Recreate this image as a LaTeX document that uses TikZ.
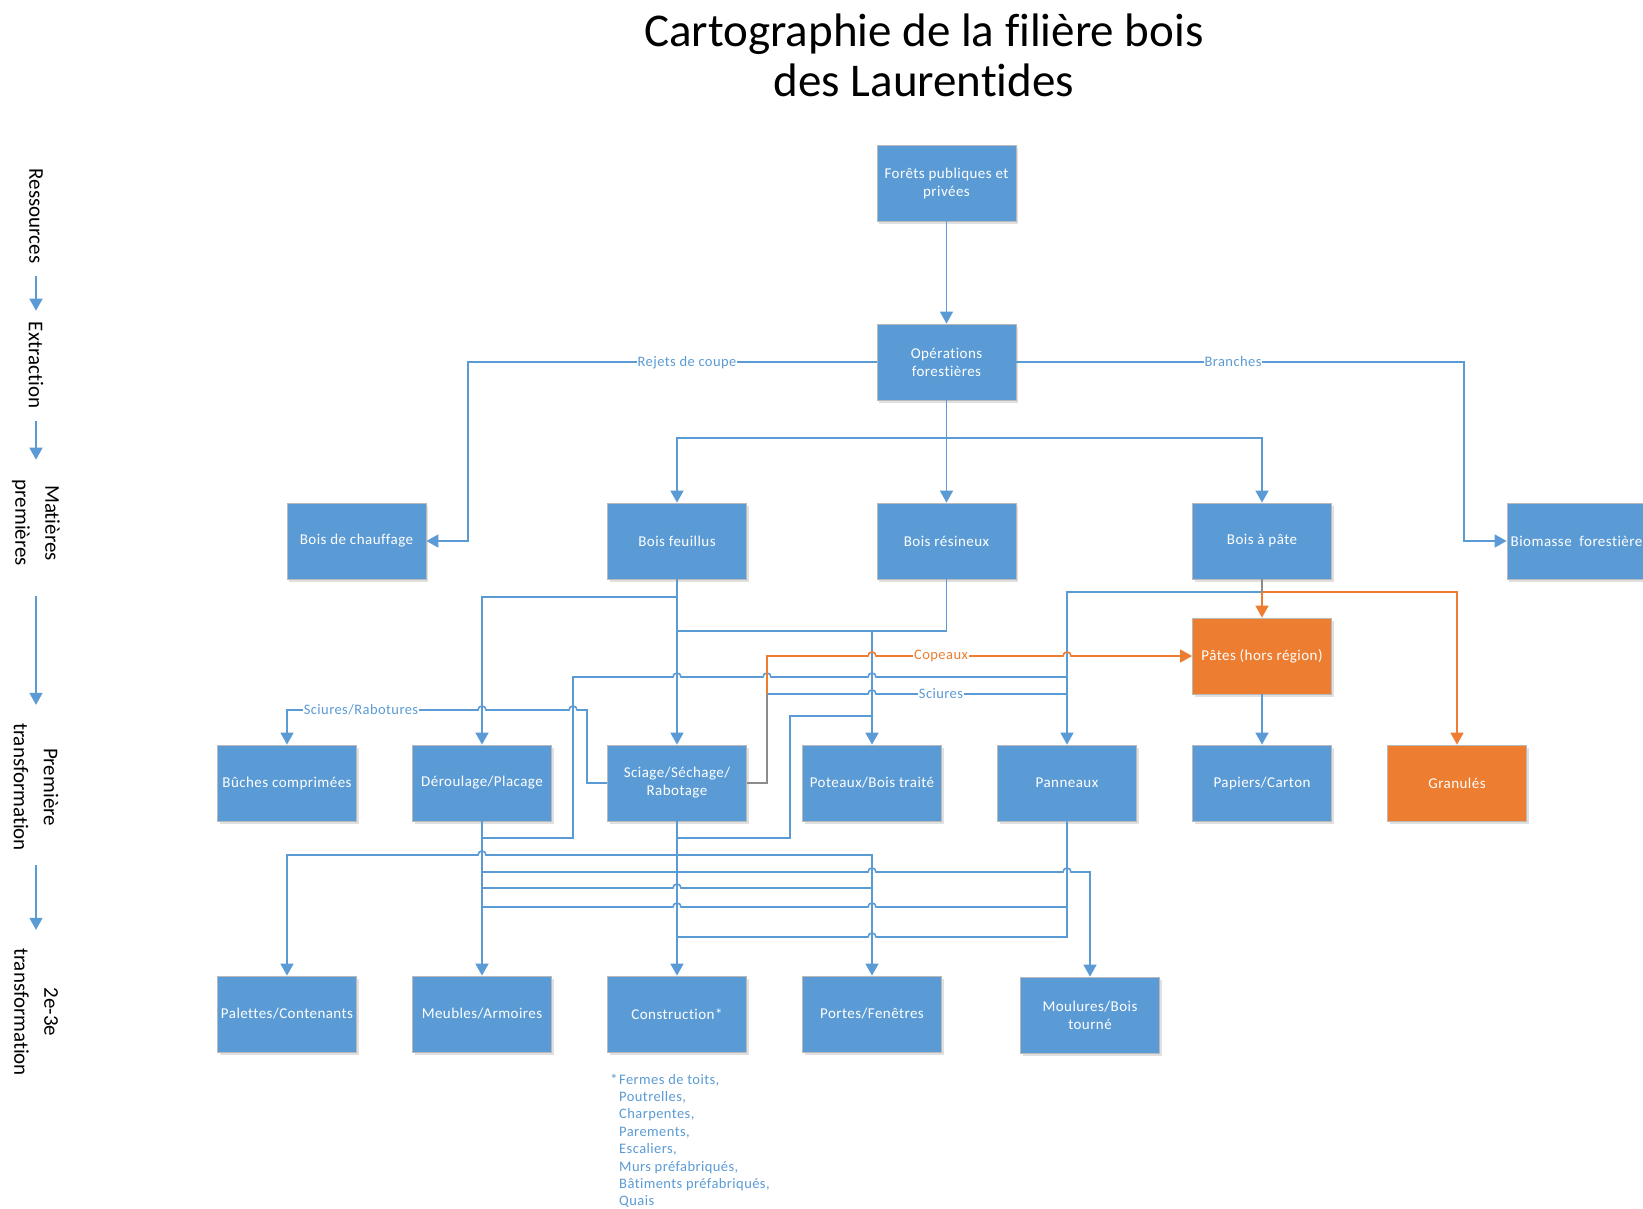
\documentclass[tikz,border=0pt]{standalone}
\usepackage{fontspec}
\setmainfont{Carlito}[Ligatures=NoCommon]
\newfontfamily\spacedfont{Carlito}[LetterSpace=3,Ligatures=NoCommon]
\usetikzlibrary{arrows.meta,shadows}
\definecolor{bblue}{HTML}{5B9BD5}
\definecolor{borange}{HTML}{ED7D31}
\definecolor{bmix}{HTML}{8E8C8A}
\newcommand\boxfont{\spacedfont\fontsize{15}{18}\selectfont}
\newcommand\lblfont{\spacedfont\fontsize{14.5}{17.4}\selectfont}
\begin{document}
\begin{tikzpicture}[x=1pt,y=-1pt,
  box/.style={draw=gray!55, line width=0.8pt, fill=bblue, text=white,
    minimum width=139pt, minimum height=76pt, align=center, font=\boxfont,
    inner sep=2pt, drop shadow={shadow xshift=2pt, shadow yshift=-2.5pt, fill=black, opacity=0.12}},
  obox/.style={box, fill=borange},
  conn/.style={draw=bblue, line width=1.6pt},
  oconn/.style={draw=borange, line width=1.6pt},
  mconn/.style={draw=bmix, line width=1.6pt},
  arr/.style={-{Triangle[length=12pt,width=13pt]}},
  lbl/.style={fill=white, inner sep=1pt, text=bblue, font=\lblfont},
  olbl/.style={lbl, text=borange},
  side/.style={rotate=-90, align=center, inner sep=0pt, font=\fontsize{21}{30}\selectfont},
]
\useasboundingbox (0,0) rectangle (1643,1208);
\fill[white] (0,0) rectangle (1643,1208);

% title
\node[align=center, font=\fontsize{47}{50}\selectfont] (title) at (924,55) {Cartographie de la filière bois\\des Laurentides};

% side labels
\node[side] (l1) at (36,216) {Ressources};
\node[side] (l2) at (36,365) {Extraction};
\node[side] (l3) at (36,523) {Matières\\premières};
\node[side] (l4) at (36,787) {Première\\transformation};
\node[side] (l5) at (36,1012) {2e-3e\\transformation};
\draw[conn,arr,shorten <=13pt,shorten >=11pt] (l1.east) -- (l2.west);
\draw[conn,arr,shorten <=13pt,shorten >=20pt] (l2.east) -- (l3.west);
\draw[conn,arr,shorten <=30pt,shorten >=18pt] (l3.east) -- (l4.west);
\draw[conn,arr,shorten <=14pt,shorten >=18pt] (l4.east) -- (l5.west);

% boxes
\node[box] (foret) at (946.5,183) {Forêts publiques et\\privées};
\node[box] (ops) at (946.5,362) {Opérations\\forestières};
\node[box] (chauff) at (356.5,541) {Bois de chauffage};
\node[box] (feuil) at (677,541) {Bois feuillus};
\node[box] (resin) at (946.5,541) {Bois résineux};
\node[box] (apate) at (1262,541) {Bois à pâte};
\node[box] (biom) at (1576.5,541) {Biomasse\ \ forestière};
\node[obox] (pates) at (1262,656) {Pâtes (hors région)};
\node[box] (buches) at (287,783) {Bûches comprimées};
\node[box] (derou) at (482,783) {Déroulage/Placage};
\node[box] (sciage) at (677,783) {Sciage/Séchage/\\Rabotage};
\node[box] (poteaux) at (872,783) {Poteaux/Bois traité};
\node[box] (panneaux) at (1067,783) {Panneaux};
\node[box] (papiers) at (1262,783) {Papiers/Carton};
\node[obox] (granules) at (1457,783) {Granulés};
\node[box] (palettes) at (287,1014) {Palettes/Contenants};
\node[box] (meubles) at (482,1014) {Meubles/Armoires};
\node[box] (constr) at (677,1014) {Construction*};
\node[box] (portes) at (872,1014) {Portes/Fenêtres};
\node[box] (moulures) at (1090,1015) {Moulures/Bois\\tourné};

% footnote
\node[anchor=north west, align=left, inner sep=0pt, text=bblue, font=\lblfont] (note) at (619,1073.5)
 {\llap{*\hspace{1.5pt}}Fermes de toits,\\Poutrelles,\\Charpentes,\\Parements,\\Escaliers,\\Murs préfabriqués,\\Bâtiments préfabriqués,\\Quais};

% top connectors
\draw[conn,arr] (foret) -- (ops);
\draw[conn,arr] (ops.west) -- (468,362) -- (468,541) -- (chauff.east);
\node[lbl] (rej) at (687,363) {Rejets de coupe};
\draw[conn,arr] (ops.east) -- (1464,362) -- (1464,541) -- (biom.west);
\node[lbl] (bra) at (1233,362) {Branches};
\coordinate (bus) at (946.5,438);
\draw[conn] (ops.south) -- (bus);
\draw[conn,arr] (bus) -| (feuil.north);
\draw[conn,arr] (bus) -| (apate.north);
\draw[conn,arr] (bus) -- (resin.north);

% raw materials to first transformation
\draw[conn,arr] (feuil.south) -- (677,597) -| (derou.north);
\draw[conn,arr] (feuil.south) -- (sciage.north);
\draw[conn,arr] (resin.south) |- (872,631) -- (poteaux.north);
\draw[conn] (872,631) -- (677,631);
\coordinate (pj) at (1262,592);
\draw[conn,arr] (pj) -| (panneaux.north);
\draw[oconn,arr] (pj) -| (granules.north);
\draw[oconn,arr] (pj) -- (pates.north);
\draw[mconn] (apate.south) -- (pj);
\draw[conn,arr] (pates.south) -- (papiers.north);

% Deroulage -> Panneaux
\draw[conn] (derou.south) -- (482,838) -- (573,838) -- (573,677) -- (673,677)
  .. controls +(0,-5.3) and +(0,-5.3) .. (681,677) -- (763,677)
  .. controls +(0,-5.3) and +(0,-5.3) .. (771,677) -- (868,677)
  .. controls +(0,-5.3) and +(0,-5.3) .. (876,677) -- (1067,677);

% Sciures / Rabotures
\draw[conn,arr] (sciage.west) -- (587,783) -- (587,710) -- (577,710)
  .. controls +(0,-5.3) and +(0,-5.3) .. (569,710) -- (486,710)
  .. controls +(0,-5.3) and +(0,-5.3) .. (478,710) -- (287,710) -- (buches.north);
\node[lbl] (scr) at (361,710) {Sciures/Rabotures};

% Sciage -> Poteaux
\draw[conn] (sciage.south) -- (677,838) -- (790,838) -- (790,716) -- (872,716);

% Copeaux and Sciures
\coordinate (cp) at (767,694);
\draw[conn] (cp) -- (868,694) .. controls +(0,-5.3) and +(0,-5.3) .. (876,694) -- (1067,694);
\node[lbl] (sci) at (941,694) {Sciures};
\draw[oconn,arr] (cp) -- (767,656) -- (868,656)
  .. controls +(0,-5.3) and +(0,-5.3) .. (876,656) -- (1063,656)
  .. controls +(0,-5.3) and +(0,-5.3) .. (1071,656) -- (pates.west);
\node[olbl] (cop) at (941,656) {Copeaux};
\draw[mconn] (sciage.east) -- (767,783) -- (cp);

% first -> second transformation
\draw[conn,arr] (derou.south) -- (meubles.north);
\draw[conn,arr] (sciage.south) -- (constr.north);
\draw[conn,arr] (677,855) -- (486,855) .. controls +(0,-5.3) and +(0,-5.3) .. (478,855) -- (287,855) -- (palettes.north);
\draw[conn,arr] (677,855) -- (872,855) -- (portes.north);
\draw[conn,arr] (482,872) -- (868,872) .. controls +(0,-5.3) and +(0,-5.3) .. (876,872) -- (1063,872)
  .. controls +(0,-5.3) and +(0,-5.3) .. (1071,872) -- (1090,872) -- (moulures.north);
\draw[conn] (482,888) -- (673,888) .. controls +(0,-5.3) and +(0,-5.3) .. (681,888) -- (872,888);
\draw[conn] (482,907) -- (673,907) .. controls +(0,-5.3) and +(0,-5.3) .. (681,907) -- (868,907)
  .. controls +(0,-5.3) and +(0,-5.3) .. (876,907) -- (1067,907);
\draw[conn] (panneaux.south) -- (1067,937) -- (876,937) .. controls +(0,-5.3) and +(0,-5.3) .. (868,937) -- (677,937);
\end{tikzpicture}
\end{document}
